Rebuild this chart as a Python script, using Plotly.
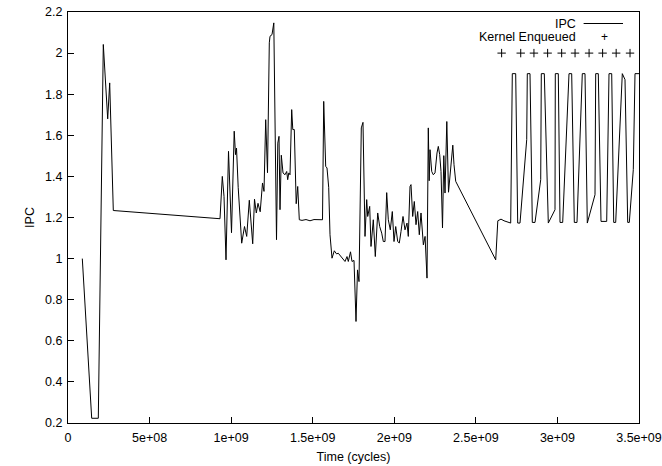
import plotly.graph_objects as go

# IPC trace: time in units of 1e9 cycles, IPC values
ipc_time_g = [
    0.0877, 0.1453, 0.1857, 0.2164, 0.2433, 0.2556, 0.2777, 0.9317, 0.9458, 0.9562,
    0.9685, 0.9838, 1.0022, 1.0188, 1.0267, 1.0329, 1.0433, 1.0543, 1.0647, 1.0819,
    1.0954, 1.1113, 1.1199, 1.1322, 1.1432, 1.1542, 1.1646, 1.1781, 1.1922, 1.2014,
    1.2118, 1.2229, 1.2339, 1.2382, 1.2505, 1.2615, 1.2780, 1.2860, 1.2934, 1.2995,
    1.3075, 1.3179, 1.3301, 1.3406, 1.3467, 1.3534, 1.3608, 1.3712, 1.3779, 1.3871,
    1.3988, 1.4080, 1.4178, 1.4343, 1.4589, 1.4834, 1.5079, 1.5324, 1.5600, 1.5674,
    1.5796, 1.5876, 1.5980, 1.6060, 1.6183, 1.6324, 1.6458, 1.6569, 1.6734, 1.6979,
    1.7102, 1.7181, 1.7316, 1.7408, 1.7531, 1.7654, 1.7746, 1.7837, 1.7978, 1.8082,
    1.8205, 1.8309, 1.8370, 1.8493, 1.8573, 1.8714, 1.8837, 1.8984, 1.9106, 1.9229,
    1.9327, 1.9431, 1.9535, 1.9633, 1.9756, 1.9879, 1.9983, 2.0087, 2.0210, 2.0308,
    2.0412, 2.0535, 2.0657, 2.0780, 2.0859, 2.0964, 2.1025, 2.1129, 2.1227, 2.1331,
    2.1435, 2.1533, 2.1638, 2.1742, 2.1783, 2.1887, 2.2006, 2.2085, 2.2140, 2.2189,
    2.2294, 2.2392, 2.2496, 2.2618, 2.2698, 2.2784, 2.2864, 2.2956, 2.3035, 2.3109,
    2.3219, 2.3324, 2.3416, 2.3508, 2.3587, 2.3661, 2.3765, 2.6217, 2.6345, 2.6541,
    2.6725, 2.7136, 2.7234, 2.7442, 2.7565, 2.7706, 2.8117, 2.8154, 2.8319, 2.8460,
    2.8626, 2.8975, 2.9012, 2.9196, 2.9441, 2.9852, 2.9870, 3.0054, 3.0158, 3.0323,
    3.0710, 3.0875, 3.1035, 3.1200, 3.1525, 3.1690, 3.1831, 3.2303, 3.2346, 3.2506,
    3.2671, 3.3020, 3.3161, 3.3327, 3.3450, 3.3572, 3.3977, 3.4142, 3.4308, 3.4406,
    3.4651, 3.4755, 3.5000,
]
ipc_values = [
    1.000, 0.223, 0.223, 2.042, 1.680, 1.855, 1.234, 1.194, 1.400, 1.303,
    0.994, 1.522, 1.126, 1.620, 1.506, 1.538, 1.345, 1.189, 1.075, 1.156,
    1.108, 1.284, 1.205, 1.072, 1.289, 1.222, 1.269, 1.228, 1.368, 1.327,
    1.676, 1.418, 2.050, 2.082, 2.090, 2.147, 1.092, 1.562, 1.595, 1.238,
    1.503, 1.417, 1.408, 1.424, 1.384, 1.417, 1.408, 1.725, 1.628, 1.628,
    1.267, 1.351, 1.189, 1.186, 1.190, 1.184, 1.190, 1.188, 1.189, 1.765,
    1.449, 1.441, 1.347, 1.116, 1.002, 1.038, 1.023, 1.026, 1.010, 0.986,
    1.010, 0.986, 1.033, 0.986, 0.991, 0.694, 0.945, 0.888, 1.636, 1.663,
    1.108, 1.287, 1.205, 1.254, 1.059, 1.189, 1.010, 1.222, 1.156, 1.124,
    1.083, 1.083, 1.321, 1.189, 1.140, 1.229, 1.083, 1.156, 1.083, 1.076,
    1.132, 1.205, 1.140, 1.173, 1.108, 1.351, 1.360, 1.205, 1.278, 1.165,
    1.229, 1.116, 1.222, 1.124, 1.067, 1.108, 0.905, 1.636, 1.379, 1.530,
    1.424, 1.408, 1.417, 1.514, 1.546, 1.506, 1.424, 1.149, 1.501, 1.319,
    1.667, 1.323, 1.417, 1.481, 1.552, 1.457, 1.376, 0.994, 1.184, 1.192,
    1.184, 1.173, 1.900, 1.900, 1.173, 1.173, 1.579, 1.900, 1.900, 1.176,
    1.176, 1.384, 1.900, 1.900, 1.173, 1.238, 1.900, 1.900, 1.176, 1.176,
    1.900, 1.900, 1.176, 1.176, 1.900, 1.900, 1.173, 1.311, 1.900, 1.900,
    1.181, 1.181, 1.900, 1.900, 1.176, 1.176, 1.900, 1.871, 1.176, 1.176,
    1.433, 1.900, 1.900,
]

# Kernel enqueue events (time in 1e9 cycles), plotted at a constant level
kernel_time_g = [2.658, 2.775, 2.856, 2.940, 3.026, 3.108, 3.194, 3.277, 3.360, 3.445]
kernel_level = [2.0] * len(kernel_time_g)

x_tick_vals = [0, 0.5e9, 1e9, 1.5e9, 2e9, 2.5e9, 3e9, 3.5e9]
x_tick_text = ["0", "5e+08", "1e+09", "1.5e+09", "2e+09", "2.5e+09", "3e+09", "3.5e+09"]
y_tick_vals = [0.2, 0.4, 0.6, 0.8, 1.0, 1.2, 1.4, 1.6, 1.8, 2.0, 2.2]
y_tick_text = ["0.2", "0.4", "0.6", "0.8", "1", "1.2", "1.4", "1.6", "1.8", "2", "2.2"]

ipc_time = [t * 1e9 for t in ipc_time_g]
kernel_time = [t * 1e9 for t in kernel_time_g]

FONT = "Liberation Sans, Arial, Helvetica, sans-serif"

fig = go.Figure()
fig.add_trace(go.Scatter(
    x=ipc_time, y=ipc_values, mode="lines", name="IPC",
    line=dict(color="black", width=1), showlegend=False,
))
fig.add_trace(go.Scatter(
    x=kernel_time, y=kernel_level, mode="markers", name="Kernel Enqueued",
    marker=dict(symbol="cross-thin", size=6, line=dict(width=1, color="black"), color="black"),
    showlegend=False,
))

# gnuplot-style key (text right-aligned, sample on the right)
fig.add_annotation(xref="paper", yref="paper", x=0.894, y=0.972, text="IPC",
                   showarrow=False, xanchor="right", yanchor="middle",
                   font=dict(family=FONT, size=12.5, color="black"))
fig.add_annotation(xref="paper", yref="paper", x=0.894, y=0.938, text="Kernel Enqueued",
                   showarrow=False, xanchor="right", yanchor="middle",
                   font=dict(family=FONT, size=12.5, color="black"))
fig.add_shape(type="line", xref="paper", yref="paper", x0=0.903, x1=0.972, y0=0.972, y1=0.972,
              line=dict(color="black", width=1))
fig.add_annotation(xref="paper", yref="paper", x=0.940, y=0.938, text="+",
                   showarrow=False, xanchor="center", yanchor="middle",
                   font=dict(family=FONT, size=12, color="black"))

fig.update_layout(
    template="none",
    width=662, height=466,
    margin=dict(l=68, r=23, t=12, b=43, autoexpand=False),
    paper_bgcolor="white", plot_bgcolor="white",
    font=dict(family=FONT, size=12.5, color="black"),
    xaxis=dict(
        range=[0, 3.5e9], tickvals=x_tick_vals, ticktext=x_tick_text,
        ticks="inside", ticklen=6, tickcolor="black", tickwidth=1,
        showline=True, linecolor="black", linewidth=1, mirror=True,
        showgrid=False, zeroline=False, automargin=False,
        ticklabelstandoff=3,
        title=dict(text="Time (cycles)", standoff=8, font=dict(size=12.5)),
    ),
    yaxis=dict(
        range=[0.2, 2.2], tickvals=y_tick_vals, ticktext=y_tick_text,
        ticks="inside", ticklen=6, tickcolor="black", tickwidth=1,
        showline=True, linecolor="black", linewidth=1, mirror=True,
        showgrid=False, zeroline=False, automargin=False,
        ticklabelstandoff=2, ticklabeloverflow="allow",
        title=dict(text="IPC", standoff=7, font=dict(size=12.5)),
    ),
)

# remove the page's default body margin so the figure sits at the window's top-left
fig.write_html(
    "out.html",
    config={"displayModeBar": False},
    post_script="document.body.style.margin='0';document.body.style.overflow='hidden';",
)
